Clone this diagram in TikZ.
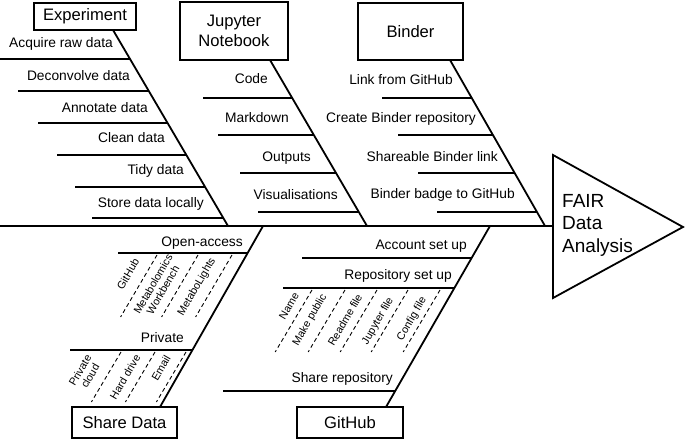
\documentclass[tikz,border=0pt]{standalone}
\usepackage{fontspec}
\setmainfont{Liberation Sans}

\begin{document}
\begin{tikzpicture}[x=1pt, y=-1pt,
  cause/.style = {draw, line width=1.8pt, inner sep=0pt, align=center, font=\fontsize{16.6}{20}\selectfont},
  bone/.style = {line width=1.8pt},
  rib/.style = {line width=1.2pt},
  sub/.style = {line width=0.9pt, dash pattern=on 4pt off 3pt},
  lbl/.style = {inner sep=0pt, anchor=base east, font=\fontsize{13.8}{16}\selectfont},
  rot/.style = {inner sep=0pt, rotate=60, align=center, font=\fontsize{10.8}{11.5}\selectfont}]
\useasboundingbox (0,0) rectangle (685,439);

% spine and head
\coordinate (s0) at (0,226);
\coordinate (hd) at (553,226);
\coordinate (t1) at (553,155);
\coordinate (t2) at (683,227);
\coordinate (t3) at (553,298);
\draw[line width=2.8pt] (s0) -- (hd);
\draw[bone] (t1) -- (t2) -- (t3) -- cycle;
\node[anchor=west, align=left, inner sep=0pt, font=\fontsize{19}{22.5}\selectfont] (fair) at (562,225) {FAIR\\Data\\Analysis};

% causes
\node[cause, minimum width=102pt, minimum height=27pt] (ex) at (85,16.5) {Experiment};
\node[cause, minimum width=108pt, minimum height=58pt] (jn) at (234,31) {Jupyter\\Notebook};
\node[cause, minimum width=105pt, minimum height=57pt] (bi) at (410.5,31.5) {Binder};
\node[cause, minimum width=105pt, minimum height=31pt] (sd) at (124.5,422.5) {Share Data};
\node[cause, minimum width=106pt, minimum height=31pt] (gh) at (350,422.5) {GitHub};

\coordinate (ex0) at (113,30);   \coordinate (ex1) at (228,226);
\coordinate (jn0) at (270,60);   \coordinate (jn1) at (367,226);
\coordinate (bi0) at (450,60);   \coordinate (bi1) at (545,226);
\coordinate (sd0) at (160,407);  \coordinate (sd1) at (263,226);
\coordinate (gh0) at (386,407);  \coordinate (gh1) at (490,226);
\draw[bone] (ex0) -- (ex1);
\draw[bone] (jn0) -- (jn1);
\draw[bone] (bi0) -- (bi1);
\draw[bone] (sd0) -- (sd1);
\draw[bone] (gh0) -- (gh1);

% Experiment
\path (0,59) coordinate (e1) (130.0,59) coordinate (e1d)
      (18,91) coordinate (e2) (148.8,91) coordinate (e2d)
      (38,123) coordinate (e3) (167.6,123) coordinate (e3d)
      (57,155) coordinate (e4) (186.3,155) coordinate (e4d)
      (75,187) coordinate (e5) (205.1,187) coordinate (e5d)
      (92,218) coordinate (e6) (223.3,218) coordinate (e6d);
\draw[rib] (e1) -- (e1d);
\draw[rib] (e2) -- (e2d);
\draw[rib] (e3) -- (e3d);
\draw[rib] (e4) -- (e4d);
\draw[rib] (e5) -- (e5d);
\draw[rib] (e6) -- (e6d);
\node[lbl] (el1) at (113,47) {Acquire raw data};
\node[lbl] (el2) at (130,80) {Deconvolve data};
\node[lbl] (el3) at (148,112) {Annotate data};
\node[lbl] (el4) at (165,142) {Clean data};
\node[lbl] (el5) at (184,174) {Tidy data};
\node[lbl] (el6) at (204,207) {Store data locally};

% Jupyter Notebook
\path (203,98) coordinate (j1) (292.2,98) coordinate (j1d)
      (218,135) coordinate (j2) (313.8,135) coordinate (j2d)
      (240,173) coordinate (j3) (336.0,173) coordinate (j3d)
      (258,212) coordinate (j4) (358.8,212) coordinate (j4d);
\draw[rib] (j1) -- (j1d);
\draw[rib] (j2) -- (j2d);
\draw[rib] (j3) -- (j3d);
\draw[rib] (j4) -- (j4d);
\node[lbl] (jl1) at (268,83) {Code};
\node[lbl] (jl2) at (289,122) {Markdown};
\node[lbl] (jl3) at (311,161) {Outputs};
\node[lbl] (jl4) at (338,199) {Visualisations};

% Binder
\path (382,98) coordinate (b1) (471.7,98) coordinate (b1d)
      (398,135) coordinate (b2) (492.9,135) coordinate (b2d)
      (418,173) coordinate (b3) (514.7,173) coordinate (b3d)
      (437,212) coordinate (b4) (537.0,212) coordinate (b4d);
\draw[rib] (b1) -- (b1d);
\draw[rib] (b2) -- (b2d);
\draw[rib] (b3) -- (b3d);
\draw[rib] (b4) -- (b4d);
\node[lbl] (bl1) at (453,84) {Link from GitHub};
\node[lbl] (bl2) at (476,122) {Create Binder repository};
\node[lbl] (bl3) at (498,161) {Shareable Binder link};
\node[lbl] (bl4) at (515,198) {Binder badge to GitHub};

% Share Data
\path (118,253) coordinate (d1) (247.6,253) coordinate (d1d)
      (70,350) coordinate (d2) (192.4,350) coordinate (d2d);
\draw[rib] (d1) -- (d1d);
\draw[rib] (d2) -- (d2d);
\node[lbl] (dl1) at (243,246) {Open-access};
\node[lbl] (dl2) at (184,342) {Private};
\path (157,255) coordinate (o1) (120.6,317) coordinate (o1b)
      (198,255) coordinate (o2) (161.6,317) coordinate (o2b)
      (232,255) coordinate (o3) (195.6,317) coordinate (o3b);
\draw[sub] (o1) -- (o1b);
\draw[sub] (o2) -- (o2b);
\draw[sub] (o3) -- (o3b);
\node[rot] (ol1) at (128,274) {GitHub};
\node[rot] (ol2) at (158,287) {Metabolomics\\Workbench};
\node[rot] (ol3) at (197,287) {MetaboLights};
\path (121,352) coordinate (p1) (91.4,402) coordinate (p1b)
      (155,352) coordinate (p2) (125.4,402) coordinate (p2b)
      (186,352) coordinate (p3) (156.4,402) coordinate (p3b);
\draw[sub] (p1) -- (p1b);
\draw[sub] (p2) -- (p2b);
\draw[sub] (p3) -- (p3b);
\node[rot] (pl1) at (85,373) {Private\\cloud};
\node[rot] (pl2) at (125,377) {Hard drive};
\node[rot] (pl3) at (161,368) {Email};

% GitHub
\path (302,258) coordinate (g1) (471.6,258) coordinate (g1d)
      (283,288) coordinate (g2) (454.4,288) coordinate (g2d)
      (223,391) coordinate (g3) (395.2,391) coordinate (g3d);
\draw[rib] (g1) -- (g1d);
\draw[rib] (g2) -- (g2d);
\draw[rib] (g3) -- (g3d);
\node[lbl] (gl1) at (467,249) {Account set up};
\node[lbl] (gl2) at (452,279) {Repository set up};
\node[lbl] (gl3) at (393,382) {Share repository};
\path (312,290) coordinate (r1) (275.2,352) coordinate (r1b)
      (345,290) coordinate (r2) (308.2,352) coordinate (r2b)
      (377,290) coordinate (r3) (340.2,352) coordinate (r3b)
      (408,290) coordinate (r4) (371.2,352) coordinate (r4b)
      (440,290) coordinate (r5) (403.2,352) coordinate (r5b);
\draw[sub] (r1) -- (r1b);
\draw[sub] (r2) -- (r2b);
\draw[sub] (r3) -- (r3b);
\draw[sub] (r4) -- (r4b);
\draw[sub] (r5) -- (r5b);
\node[rot] (rl1) at (289,306) {Name};
\node[rot] (rl2) at (310,320) {Make public};
\node[rot] (rl3) at (345,320) {Readme file};
\node[rot] (rl4) at (378,321) {Jupyter file};
\node[rot] (rl5) at (412,319) {Config file};
\end{tikzpicture}
\end{document}
